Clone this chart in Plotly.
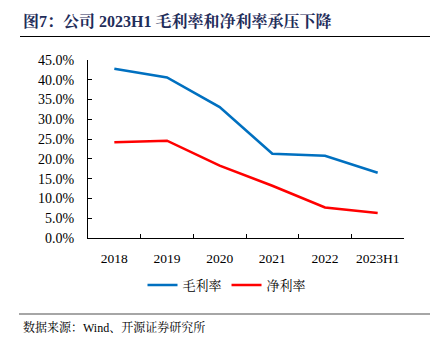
import plotly.graph_objects as go

years = ["2018", "2019", "2020", "2021", "2022", "2023H1"]
gross_margin = [42.8, 40.6, 33.1, 21.3, 20.8, 16.5]
net_margin = [24.2, 24.6, 18.3, 13.2, 7.7, 6.3]
y_ticks = [0, 5, 10, 15, 20, 25, 30, 35, 40, 45]
y_tick_labels = [f"{v:.1f}%" for v in y_ticks]

FONT = "Liberation Serif, Noto Serif CJK SC, Noto Sans CJK SC, serif"
PW, PH, L, T = 316, 178, 88, 60

def px(x):
    return (x - L) / PW

def py(y):
    return 1 - (y - T) / PH

fig = go.Figure()
fig.add_trace(go.Scatter(x=years, y=gross_margin, mode="lines", name="毛利率",
                         line=dict(color="#0070C0", width=2.6)))
fig.add_trace(go.Scatter(x=years, y=net_margin, mode="lines", name="净利率",
                         line=dict(color="#FF0000", width=2.6)))

fig.update_layout(
    width=438, height=352,
    margin=dict(l=L, r=438 - L - PW, t=T, b=352 - T - PH),
    paper_bgcolor="white", plot_bgcolor="white",
    font=dict(family=FONT, size=12, color="#000000"),
    showlegend=True,
    legend=dict(orientation="h", x=px(227), xanchor="center", y=py(285), yanchor="middle",
                font=dict(size=13, family=FONT), tracegroupgap=0),
    xaxis=dict(type="category", showline=True, linecolor="#000000", linewidth=1,
               ticks="inside", tickson="boundaries", ticklen=4, tickcolor="#000000",
               showgrid=False, tickfont=dict(size=13.5, family=FONT), range=[-0.5, 5.5],
               tickangle=0, ticklabelstandoff=8),
    yaxis=dict(range=[0, 45], tickvals=y_ticks, ticktext=y_tick_labels,
               showline=True, linecolor="#000000", linewidth=1,
               ticks="inside", ticklen=4, tickcolor="#000000",
               showgrid=False, zeroline=False, tickfont=dict(size=14, family=FONT),
               ticklabelstandoff=10),
)

fig.add_annotation(text="<b>图7：公司 2023H1 毛利率和净利率承压下降</b>",
                   xref="paper", yref="paper", x=px(21), y=py(21),
                   xanchor="left", yanchor="middle", showarrow=False,
                   font=dict(size=16, color="#1F2D5A", family=FONT))
fig.add_shape(type="line", xref="paper", yref="paper",
              x0=px(20), x1=px(430), y0=py(36.5), y1=py(36.5),
              line=dict(color="#000000", width=1.2))
fig.add_shape(type="line", xref="paper", yref="paper",
              x0=px(19), x1=px(430), y0=py(314), y1=py(314),
              line=dict(color="#888888", width=1.5))
fig.add_annotation(text="数据来源：Wind、开源证券研究所",
                   xref="paper", yref="paper", x=px(21), y=py(327),
                   xanchor="left", yanchor="middle", showarrow=False,
                   font=dict(size=12, color="#000000", family=FONT))

fig.write_html("out.html")
